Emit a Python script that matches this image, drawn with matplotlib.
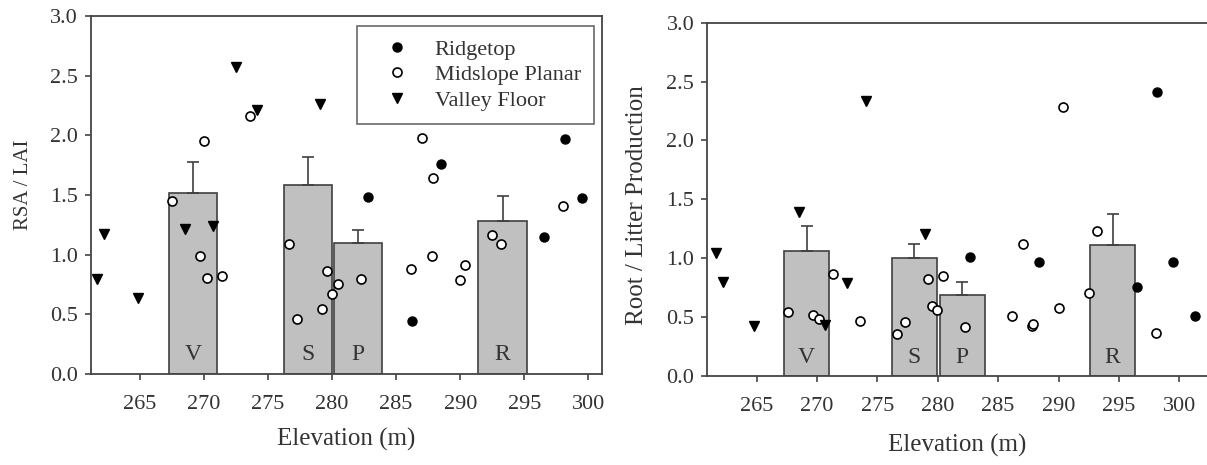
import matplotlib.pyplot as plt
import matplotlib
import numpy as np

plt.rcParams['font.family'] = ['Liberation Serif', 'DejaVu Serif']

# left panel: RSA / LAI
bar_labels = ['V', 'S', 'P', 'R']
l_bar_x = [269.15, 278.1, 282.05, 293.3]
l_bar_h = [1.52, 1.58, 1.10, 1.285]
l_bar_err = [0.255, 0.24, 0.105, 0.207]

l_ridge_x = [282.78, 286.23, 288.47, 296.56, 298.2, 299.53]
l_ridge_y = [1.486, 0.444, 1.758, 1.151, 1.967, 1.473]
l_mid_x = [267.52, 269.68, 270.0, 270.2, 271.42, 273.56, 276.66, 277.28, 279.18, 279.62,
           279.96, 280.48, 282.23, 286.18, 287.04, 287.8, 287.87, 290.0, 290.35, 292.48,
           293.16, 298.05]
l_mid_y = [1.448, 0.989, 1.956, 0.802, 0.819, 2.16, 1.087, 0.464, 0.545, 0.866,
           0.671, 0.754, 0.796, 0.880, 1.976, 0.992, 1.646, 0.788, 0.916, 1.162,
           1.087, 1.411]
l_valley_x = [261.62, 262.2, 264.87, 268.54, 270.72, 272.49, 274.11, 279.05]
l_valley_y = [0.796, 1.17, 0.64, 1.213, 1.24, 2.571, 2.213, 2.263]

# right panel: Root / Litter Production
r_bar_x = [269.14, 278.05, 282.03, 294.48]
r_bar_h = [1.058, 1.002, 0.69, 1.109]
r_bar_err = [0.218, 0.116, 0.105, 0.269]

r_ridge_x = [282.67, 288.42, 296.51, 298.19, 299.52, 301.31]
r_ridge_y = [1.007, 0.971, 0.753, 2.413, 0.968, 0.509]
r_mid_x = [267.57, 269.64, 270.19, 271.35, 273.56, 276.6, 277.29, 279.17, 279.52, 279.96,
           280.41, 282.26, 286.18, 287.04, 287.78, 287.92, 290.02, 290.35, 292.5, 293.19,
           298.11]
r_mid_y = [0.543, 0.515, 0.487, 0.863, 0.47, 0.357, 0.456, 0.826, 0.597, 0.557,
           0.849, 0.419, 0.507, 1.118, 0.427, 0.439, 0.575, 2.284, 0.702, 1.233,
           0.368]
r_valley_x = [261.63, 262.18, 264.8, 268.53, 270.66, 272.48, 274.06, 278.94]
r_valley_y = [1.047, 0.798, 0.427, 1.395, 0.433, 0.787, 2.334, 1.203]

spine_col = '#444444'
text_col = '#333333'
bar_fill = '#c0c0c0'


def draw_panel(ax, bx, bh, berr, rx, ry, mx, my, vx, vy):
    ax.bar(bx, bh, width=3.75, color=bar_fill, edgecolor='#404040', linewidth=1.2, zorder=1)
    ax.errorbar(bx, bh, yerr=[np.zeros(len(berr)), berr], fmt='none', ecolor='#404040',
                elinewidth=1.2, capsize=4, capthick=1.2, zorder=1)
    for x, lab in zip(bx, bar_labels):
        ax.text(x, 0.16, lab, ha='center', va='center', fontsize=17, color=text_col, zorder=2)
    ax.plot(rx, ry, 'o', ms=6.5, color='black', label='Ridgetop', zorder=3)
    ax.plot(mx, my, 'o', ms=6.5, mfc='white', mec='black', mew=1.2, label='Midslope Planar', zorder=3)
    ax.plot(vx, vy, 'v', ms=7, color='black', label='Valley Floor', zorder=3)
    ax.set_ylim(0, 3)
    ax.set_yticks(np.arange(0, 3.01, 0.5))
    ax.set_yticklabels(['%.1f' % v for v in np.arange(0, 3.01, 0.5)])
    ax.set_xticks(np.arange(265, 301, 5))
    ax.tick_params(direction='out', length=4, width=1.2, colors=spine_col, labelcolor=text_col,
                   labelsize=16, pad=5)
    ax.tick_params(axis='x', pad=11)
    for s in ax.spines.values():
        s.set_color(spine_col)
        s.set_linewidth(1.3)


fig = plt.figure(figsize=(12.07, 4.65), dpi=100)
ax1 = fig.add_axes([0.0751, 0.1957, 0.4237, 0.7699])
ax2 = fig.add_axes([0.5855, 0.1914, 0.4145, 0.7598])

draw_panel(ax1, l_bar_x, l_bar_h, l_bar_err, l_ridge_x, l_ridge_y, l_mid_x, l_mid_y,
           l_valley_x, l_valley_y)
ax1.set_xlim(261.15, 301.07)
ax1.set_xlabel('Elevation (m)', fontsize=18, color=text_col, labelpad=10)
ax1.set_ylabel('RSA / LAI', fontsize=15, color=text_col)
ax1.yaxis.set_label_coords(-0.112, 0.528)
leg = ax1.legend(loc='upper right', bbox_to_anchor=(0.9844, 0.9729), fontsize=16, frameon=True,
                 fancybox=False, edgecolor=spine_col, handlelength=2.45, handletextpad=0.45,
                 borderpad=0.6, labelspacing=0.23, borderaxespad=0)
leg.get_frame().set_linewidth(1.2)
for t in leg.get_texts():
    t.set_color(text_col)

draw_panel(ax2, r_bar_x, r_bar_h, r_bar_err, r_ridge_x, r_ridge_y, r_mid_x, r_mid_y,
           r_valley_x, r_valley_y)
ax2.set_xlim(260.86, 302.3)
ax2.spines['right'].set_visible(False)
ax2.set_xlabel('Elevation (m)', fontsize=18, color=text_col, labelpad=13)
ax2.set_ylabel('Root / Litter Production', fontsize=18, color=text_col)
ax2.yaxis.set_label_coords(-0.117, 0.485)

fig.savefig('out.png', dpi=100)
